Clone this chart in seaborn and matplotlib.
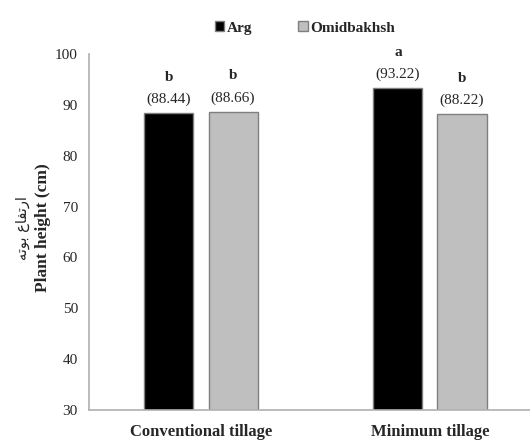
import pandas as pd
import matplotlib.pyplot as plt
import seaborn as sns

tillage = ["Conventional tillage", "Conventional tillage", "Minimum tillage", "Minimum tillage"]
cultivar = ["Arg", "Omidbakhsh", "Arg", "Omidbakhsh"]
height = [88.44, 88.66, 93.22, 88.22]
letters = ["b", "b", "a", "b"]

# Persian label pre-shaped (visual order) since matplotlib does no Arabic shaping
persian_label = "\uFEEA\uFE97\uFEEE\uFE91 \uFEC9\uFE8E\uFED4\uFE97\uFEAD\uFE8D"

df = pd.DataFrame({"Tillage": tillage, "Cultivar": cultivar, "Height": height, "Letter": letters})

sns.set_style("white")
plt.rcParams["font.family"] = ["Liberation Serif", "DejaVu Sans"]

fig = plt.figure(figsize=(5.3, 4.42), dpi=100)
ax = fig.add_axes([0.168, 0.072, 0.832, 0.806])

sns.barplot(
    data=df, x="Tillage", y="Height", hue="Cultivar",
    palette={"Arg": "#000000", "Omidbakhsh": "#bfbfbf"},
    width=0.56, gap=0.235, edgecolor="#7f7f7f", linewidth=1.0,
    errorbar=None, ax=ax
)

ax.set_ylim(30, 100)
ax.set_xlim(-0.489, 1.437)
ax.set_yticks(range(30, 101, 10))
ax.tick_params(axis="both", length=0, labelsize=11)
ax.tick_params(axis="y", pad=8)
ax.tick_params(axis="x", pad=10)
for lab in ax.get_xticklabels():
    lab.set_fontweight("bold")
    lab.set_fontsize(12)
ax.set_xlabel("")
ax.set_ylabel("")
for s in ["top", "right"]:
    ax.spines[s].set_visible(False)
for s in ["left", "bottom"]:
    ax.spines[s].set_color("#b0b0b0")
    ax.spines[s].set_linewidth(1.2)

# annotations from the drawn bars
for container, cv in zip(ax.containers, ["Arg", "Omidbakhsh"]):
    sub = df[df["Cultivar"] == cv].reset_index(drop=True)
    for bar, (_, row) in zip(container, sub.iterrows()):
        xc = bar.get_x() + bar.get_width() / 2
        top = bar.get_height()
        ax.annotate(f"({row['Height']:.2f})", (xc, top), xytext=(0, 5),
                    textcoords="offset points", ha="center", va="bottom", fontsize=11)
        ax.annotate(row["Letter"], (xc, top), xytext=(0, 21),
                    textcoords="offset points", ha="center", va="bottom",
                    fontsize=11, fontweight="bold")

fig.text(0.042, 0.484, persian_label, rotation=90, ha="center", va="center", fontsize=10.5,
         family=["DejaVu Sans"])
fig.text(0.082, 0.484, "Plant height (cm)", rotation=90, ha="center", va="center",
         fontsize=12.5, fontweight="bold")

leg = ax.legend(loc="upper center", bbox_to_anchor=(0.49, 1.13), ncol=2, frameon=False,
                handlelength=0.6, handleheight=0.6, handletextpad=0.2, columnspacing=3.0,
                prop={"weight": "bold", "size": 11})

fig.savefig("out.png", dpi=100)
